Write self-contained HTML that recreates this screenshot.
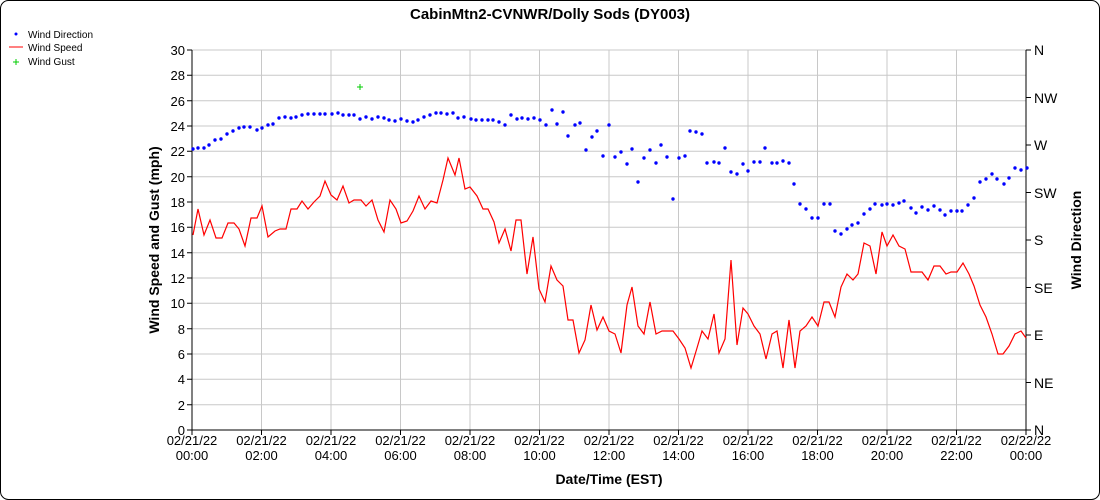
<!DOCTYPE html>
<html><head><meta charset="utf-8"><style>
html,body{margin:0;padding:0;background:#fff;}
svg{display:block;font-family:"Liberation Sans",Arial,sans-serif;}
</style></head><body>
<svg width="1100" height="500" viewBox="0 0 1100 500" xmlns="http://www.w3.org/2000/svg">
<rect x="0.5" y="0.5" width="1099" height="499" rx="8" fill="#fff" stroke="#000"/>
<text x="550" y="19" font-size="15" font-weight="bold" text-anchor="middle">CabinMtn2-CVNWR/Dolly Sods (DY003)</text>
<path d="M16 34h0" stroke="#00f" stroke-width="3" stroke-linecap="round"/><text x="28" y="38" font-size="10">Wind Direction</text>
<line x1="9" y1="47" x2="23" y2="47" stroke="#f00"/><text x="28" y="51" font-size="10">Wind Speed</text>
<path d="M13 62h6M16 59v6" stroke="#0c0"/><text x="28" y="65" font-size="10">Wind Gust</text>
<g stroke="#c8c8c8" stroke-width="1">
<line x1="192" x2="1026" y1="50" y2="50"/><line x1="192" x2="1026" y1="75.3" y2="75.3"/><line x1="192" x2="1026" y1="100.7" y2="100.7"/><line x1="192" x2="1026" y1="126" y2="126"/><line x1="192" x2="1026" y1="151.3" y2="151.3"/><line x1="192" x2="1026" y1="176.7" y2="176.7"/><line x1="192" x2="1026" y1="202" y2="202"/><line x1="192" x2="1026" y1="227.3" y2="227.3"/><line x1="192" x2="1026" y1="252.7" y2="252.7"/><line x1="192" x2="1026" y1="278" y2="278"/><line x1="192" x2="1026" y1="303.3" y2="303.3"/><line x1="192" x2="1026" y1="328.7" y2="328.7"/><line x1="192" x2="1026" y1="354" y2="354"/><line x1="192" x2="1026" y1="379.3" y2="379.3"/><line x1="192" x2="1026" y1="404.7" y2="404.7"/>
<line y1="50" y2="430" x1="261.5" x2="261.5"/><line y1="50" y2="430" x1="331" x2="331"/><line y1="50" y2="430" x1="400.5" x2="400.5"/><line y1="50" y2="430" x1="470" x2="470"/><line y1="50" y2="430" x1="539.5" x2="539.5"/><line y1="50" y2="430" x1="609" x2="609"/><line y1="50" y2="430" x1="678.5" x2="678.5"/><line y1="50" y2="430" x1="748" x2="748"/><line y1="50" y2="430" x1="817.5" x2="817.5"/><line y1="50" y2="430" x1="887" x2="887"/><line y1="50" y2="430" x1="956.5" x2="956.5"/>
</g>
<g stroke="#000" fill="none">
<line x1="192" y1="50" x2="192" y2="430"/><line x1="1026" y1="50" x2="1026" y2="430"/><line x1="192" y1="430" x2="1026" y2="430"/>
<path d="M187 50h5M187 75.3h5M187 100.7h5M187 126h5M187 151.3h5M187 176.7h5M187 202h5M187 227.3h5M187 252.7h5M187 278h5M187 303.3h5M187 328.7h5M187 354h5M187 379.3h5M187 404.7h5M187 430h5"/>
<path d="M1026 50h5M1026 97.5h5M1026 145h5M1026 192.5h5M1026 240h5M1026 287.5h5M1026 335h5M1026 382.5h5M1026 430h5"/>
<path d="M192 430v5M261.5 430v5M331 430v5M400.5 430v5M470 430v5M539.5 430v5M609 430v5M678.5 430v5M748 430v5M817.5 430v5M887 430v5M956.5 430v5M1026 430v5"/>
</g>
<g font-size="13" text-anchor="end">
<text x="185" y="55">30</text><text x="185" y="80">28</text><text x="185" y="106">26</text><text x="185" y="131">24</text><text x="185" y="156">22</text><text x="185" y="182">20</text><text x="185" y="207">18</text><text x="185" y="232">16</text><text x="185" y="258">14</text><text x="185" y="283">12</text><text x="185" y="308">10</text><text x="185" y="334">8</text><text x="185" y="359">6</text><text x="185" y="384">4</text><text x="185" y="410">2</text><text x="185" y="435">0</text>
</g>
<g font-size="14">
<text x="1034" y="55">N</text><text x="1034" y="103">NW</text><text x="1034" y="150">W</text><text x="1034" y="198">SW</text><text x="1034" y="245">S</text><text x="1034" y="293">SE</text><text x="1034" y="340">E</text><text x="1034" y="388">NE</text><text x="1034" y="435">N</text>
</g>
<g font-size="13" text-anchor="middle">
<text x="192" y="445">02/21/22</text><text x="192" y="460">00:00</text>
<text x="261.5" y="445">02/21/22</text><text x="261.5" y="460">02:00</text>
<text x="331" y="445">02/21/22</text><text x="331" y="460">04:00</text>
<text x="400.5" y="445">02/21/22</text><text x="400.5" y="460">06:00</text>
<text x="470" y="445">02/21/22</text><text x="470" y="460">08:00</text>
<text x="539.5" y="445">02/21/22</text><text x="539.5" y="460">10:00</text>
<text x="609" y="445">02/21/22</text><text x="609" y="460">12:00</text>
<text x="678.5" y="445">02/21/22</text><text x="678.5" y="460">14:00</text>
<text x="748" y="445">02/21/22</text><text x="748" y="460">16:00</text>
<text x="817.5" y="445">02/21/22</text><text x="817.5" y="460">18:00</text>
<text x="887" y="445">02/21/22</text><text x="887" y="460">20:00</text>
<text x="956.5" y="445">02/21/22</text><text x="956.5" y="460">22:00</text>
<text x="1026" y="445">02/22/22</text><text x="1026" y="460">00:00</text>
</g>
<text x="609" y="484" font-size="14" font-weight="bold" text-anchor="middle">Date/Time (EST)</text>
<text transform="translate(159,240) rotate(-90)" font-size="14" font-weight="bold" text-anchor="middle">Wind Speed and Gust (mph)</text>
<text transform="translate(1081,240) rotate(-90)" font-size="14" font-weight="bold" text-anchor="middle">Wind Direction</text>
<polyline fill="none" stroke="#f00" stroke-width="1.2" points="193,235 198,209 204,235 210,220 216,238 222,238 228,223 234,223 239,229 245,246 251,218 257,218 262,206 268,237 275,231 280,229 286,229 291,209 297,209 302,201 308,209 314,202 320,196 325,181 331,195 337,200 343,186 349,203 354,200 361,200 366,206 372,200 378,220 384,232 390,200 396,209 401,223 407,221 413,211 419,196 425,209 431,201 437,203 443,180 448,158 455,175 459,158 465,189 470,187 477,196 483,209 488,209 494,222 499,243 505,229 511,251 516,220 521,220 527,274 533,237 539,289 545,302 551,266 557,280 563,286 568,320 573,320 579,353 585,340 591,305 597,330 603,317 609,331 615,334 621,353 627,305 632,287 638,326 644,334 650,302 656,334 662,331 673,331 679,339 685,348 691,368 697,348 702,331 708,339 714,314 719,353 725,339 731,260 737,345 743,308 748,314 754,326 760,334 766,359 772,334 777,331 783,368 789,320 795,368 800,331 806,326 812,317 818,326 824,302 829,302 835,317 841,287 847,274 853,280 858,274 864,243 870,246 876,274 882,232 887,246 893,235 899,246 905,249 911,272 922,272 928,280 934,266 940,266 946,274 951,272 957,272 963,263 969,274 974,286 980,305 986,317 992,334 998,354 1003,354 1009,346 1015,334 1021,331 1026,338"/>
<path fill="none" stroke="#00f" stroke-width="3.4" stroke-linecap="round" d="M193 149h0M198 148h0M204 148h0M209 145h0M215 140h0M221 139h0M227 134h0M233 131h0M239 128h0M244 127h0M250 127h0M257 130h0M262 128h0M268 125h0M273 124h0M279 118h0M285 117h0M291 118h0M296 117h0M302 115h0M308 114h0M314 114h0M320 114h0M325 114h0M332 114h0M338 113h0M343 115h0M349 115h0M354 115h0M360 119h0M366 117h0M372 119h0M378 117h0M384 118h0M389 120h0M395 121h0M401 119h0M407 121h0M413 122h0M418 120h0M424 117h0M430 115h0M436 113h0M441 113h0M447 114h0M453 113h0M458 118h0M464 117h0M471 119h0M476 120h0M482 120h0M488 120h0M493 120h0M499 122h0M505 125h0M511 115h0M517 119h0M522 118h0M528 119h0M534 118h0M540 120h0M546 125h0M552 110h0M557 124h0M563 112h0M568 136h0M575 125h0M580 123h0M586 150h0M592 137h0M597 131h0M603 156h0M609 125h0M615 157h0M621 152h0M627 164h0M632 149h0M638 182h0M644 158h0M650 150h0M656 163h0M661 145h0M667 157h0M673 199h0M679 158h0M685 156h0M690 131h0M696 132h0M702 134h0M707 163h0M714 162h0M719 163h0M725 148h0M731 172h0M737 174h0M743 164h0M748 171h0M754 162h0M760 162h0M765 148h0M772 163h0M777 163h0M783 161h0M789 163h0M794 184h0M800 204h0M806 209h0M812 218h0M818 218h0M824 204h0M830 204h0M835 231h0M841 234h0M847 229h0M852 225h0M858 223h0M864 214h0M870 209h0M875 204h0M882 205h0M887 204h0M893 205h0M899 203h0M904 201h0M911 208h0M916 213h0M922 207h0M928 210h0M934 206h0M940 210h0M945 215h0M951 211h0M957 211h0M962 211h0M968 205h0M974 198h0M980 182h0M986 179h0M992 174h0M997 179h0M1004 184h0M1009 178h0M1015 168h0M1021 170h0M1027 168h0"/>
<path d="M357 87h6M360 84v6" stroke="#0c0"/>
</svg>
</body></html>
